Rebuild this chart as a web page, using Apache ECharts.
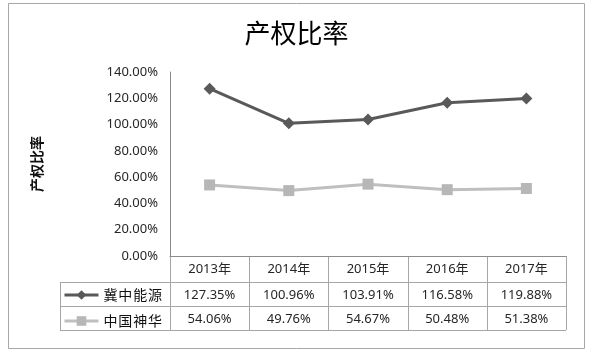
<!DOCTYPE html>
<html>
<head>
<meta charset="utf-8">
<script src="https://cdn.jsdelivr.net/npm/echarts@6/dist/echarts.min.js"></script>
<style>
  html, body { margin: 0; padding: 0; background: #fff; }
  #chart { width: 593px; height: 354px; }
</style>
</head>
<body>
<div id="chart"></div>
<script>
// data
const categories = ['2013年', '2014年', '2015年', '2016年', '2017年']
const jizhong = [127.35, 100.96, 103.91, 116.58, 119.88]
const shenhua = [54.06, 49.76, 54.67, 50.48, 51.38]
const seriesNames = ['冀中能源', '中国神华']

// grid / table geometry
const gridLeft = 170
const gridRight = 566
const gridTop = 72
const gridBottom = 256
const tableLeft = 60
const rowLines = [282, 306, 330]
const font = 'Noto Sans, Noto Sans CJK SC, sans-serif'
const lineColor = '#a6a6a6'

const chart = echarts.init(document.getElementById('chart'))

function fmt(v) {
  return v.toFixed(2) + '%'
}

function buildTable() {
  const els = []
  const colW = (gridRight - gridLeft) / categories.length
  const line = (x1, y1, x2, y2) => ({
    type: 'line',
    silent: true,
    shape: { x1: x1, y1: y1, x2: x2, y2: y2 },
    style: { stroke: lineColor, lineWidth: 1 }
  })
  // horizontal
  rowLines.forEach(y => els.push(line(tableLeft, y + 0.5, gridRight, y + 0.5)))
  // vertical
  els.push(line(tableLeft + 0.5, rowLines[0], tableLeft + 0.5, rowLines[2]))
  for (let i = 1; i <= categories.length; i++) {
    const x = Math.round(gridLeft + colW * i) + 0.5
    els.push(line(x, gridBottom, x, rowLines[2]))
  }
  els.push(line(gridLeft + 0.5, gridBottom, gridLeft + 0.5, rowLines[2]))
  // values
  const rows = [jizhong, shenhua]
  rows.forEach((arr, r) => {
    const cy = (rowLines[r] + rowLines[r + 1]) / 2 + 1
    arr.forEach((v, i) => {
      els.push({
        type: 'text',
        silent: true,
        x: gridLeft + colW * (i + 0.5),
        y: cy,
        style: {
          text: fmt(v),
          fill: '#262626',
          font: '13px ' + font,
          align: 'center',
          verticalAlign: 'middle'
        }
      })
    })
  })
  // outer border
  els.push({
    type: 'rect',
    silent: true,
    shape: { x: 8.5, y: 3.5, width: 576, height: 345 },
    style: { fill: 'none', stroke: '#a6a6a6', lineWidth: 1 }
  })
  return els
}

chart.setOption({
  animation: false,
  title: {
    text: '产权比率',
    left: 'center',
    top: 15,
    textStyle: {
      fontSize: 26,
      fontWeight: 'normal',
      color: '#000',
      fontFamily: 'Noto Sans CJK SC'
    }
  },
  legend: {
    orient: 'vertical',
    left: 63,
    top: 288,
    padding: 0,
    itemWidth: 34,
    itemHeight: 12,
    itemGap: 12,
    data: seriesNames,
    lineStyle: { width: 3 },
    formatter: name => name.split('').join('\u200a'),
    textStyle: {
      fontSize: 14,
      color: '#111',
      fontFamily: 'Noto Sans CJK SC'
    }
  },
  grid: {
    left: gridLeft,
    right: 593 - gridRight,
    top: gridTop,
    bottom: 354 - gridBottom
  },
  xAxis: {
    type: 'category',
    data: categories,
    boundaryGap: true,
    axisLine: { lineStyle: { color: '#8c8c8c', width: 1 } },
    axisTick: { show: false },
    axisLabel: {
      margin: 7,
      fontSize: 13,
      color: '#262626',
      fontFamily: font
    }
  },
  yAxis: {
    type: 'value',
    min: 0,
    max: 140,
    interval: 20,
    name: '产权比率',
    nameLocation: 'middle',
    nameRotate: 90,
    nameGap: 126,
    nameTextStyle: {
      fontSize: 14,
      fontWeight: 'bold',
      color: '#111',
      fontFamily: 'Noto Sans CJK SC'
    },
    axisLine: { show: true, lineStyle: { color: '#8c8c8c', width: 1 } },
    axisTick: { show: false },
    splitLine: { show: false },
    axisLabel: {
      margin: 12,
      fontSize: 13,
      color: '#262626',
      fontFamily: font,
      formatter: v => fmt(v)
    }
  },
  series: [
    {
      name: seriesNames[0],
      type: 'line',
      data: jizhong,
      symbol: 'diamond',
      symbolSize: 12,
      lineStyle: { color: '#595959', width: 3 },
      itemStyle: { color: '#595959' }
    },
    {
      name: seriesNames[1],
      type: 'line',
      data: shenhua,
      symbol: 'rect',
      symbolSize: 11,
      lineStyle: { color: '#bfbfbf', width: 3 },
      itemStyle: { color: '#b7b7b7' }
    }
  ],
  graphic: buildTable()
})
</script>
</body>
</html>
